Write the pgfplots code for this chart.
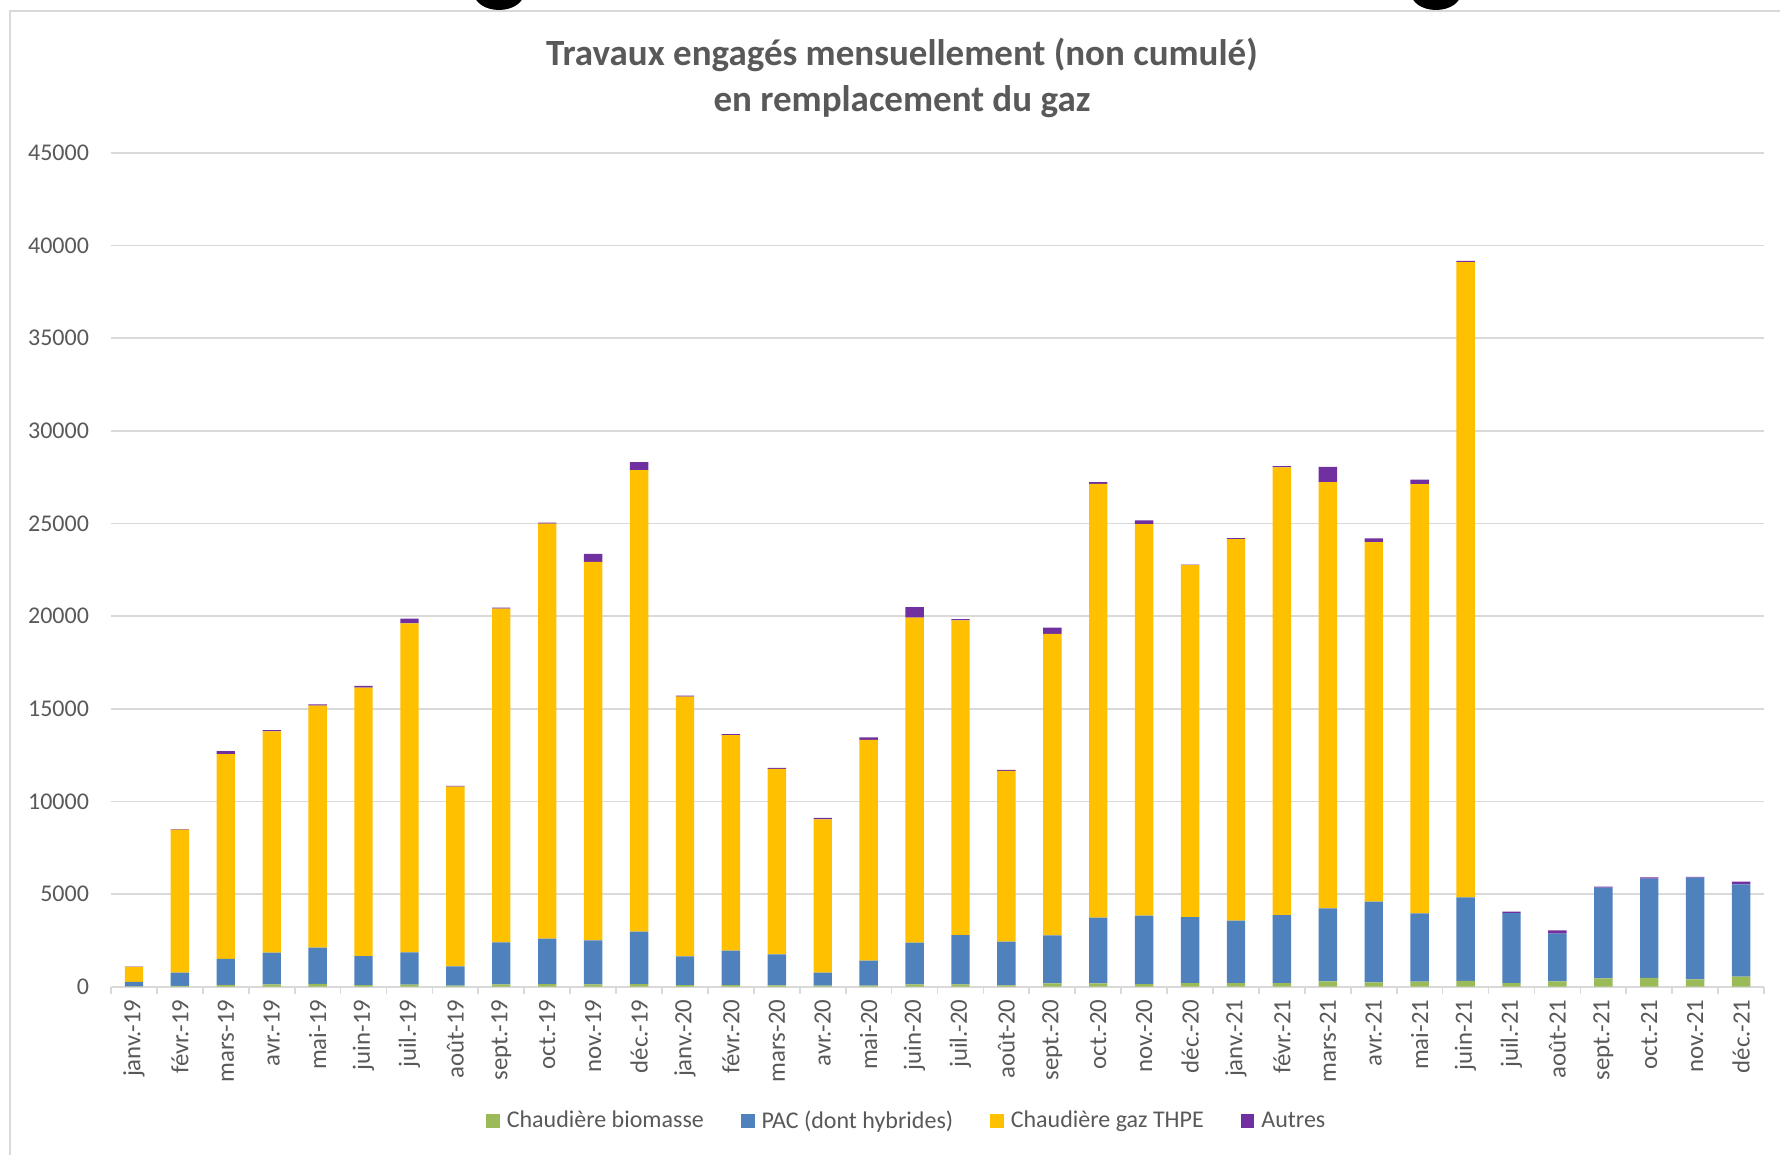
\documentclass[border=0pt]{standalone}
\usepackage{pgfplots}
\pgfplotsset{compat=1.18}
\usepackage{pgfplotstable}
\usepackage{fontspec}
\setmainfont{Carlito}
\definecolor{cbio}{HTML}{9BBB59}
\definecolor{cpac}{HTML}{4F81BD}
\definecolor{cgaz}{HTML}{FFC000}
\definecolor{caut}{HTML}{7030A0}
\definecolor{txt}{HTML}{595959}
\definecolor{grd}{HTML}{D9D9D9}

\pgfplotstableread{
x bio pac gaz aut
0 20 240 810 20
1 40 718 7712 30
2 100 1400 11045 165
3 120 1720 11932 73
4 150 1960 13052 73
5 80 1576 14481 90
6 110 1743 17750 252
7 60 1040 9694 36
8 120 2275 18002 53
9 140 2450 22392 54
10 130 2370 20424 433
11 140 2827 24903 433
12 80 1560 14010 50
13 90 1852 11632 56
14 70 1678 10003 54
15 60 695 8270 90
16 60 1342 11919 126
17 120 2253 17537 577
18 130 2659 16976 73
19 70 2357 9215 55
20 180 2592 16271 325
21 180 3542 23408 90
22 140 3690 21134 198
23 190 3570 18984 36
24 190 3370 20592 54
25 190 3677 24147 72
26 290 3939 22991 830
27 230 4355 19404 199
28 270 3689 23153 253
29 320 4502 34278 60
30 190 3785 0 70
31 290 2570 0 182
32 450 4890 0 60
33 470 5355 0 75
34 390 5490 0 40
35 540 4985 0 140
}\data

\begin{document}
\begin{tikzpicture}
\useasboundingbox (0pt,0pt) rectangle (890pt,577.5pt);
\begin{scope}
\clip (0pt,0pt) rectangle (890pt,577.5pt);
\fill[black] (249.5pt,581pt) ellipse (12.5pt and 8.5pt);
\fill[black] (718pt,581pt) ellipse (12.5pt and 8.5pt);
\end{scope}
\draw[grd, line width=0.75pt] (5pt,0pt) -- (5pt,572pt) -- (890pt,572pt);
\node[font=\bfseries\fontsize{18.5}{22}\selectfont, text=txt] at (451pt,550.25pt) {Travaux engagés mensuellement (non cumulé)};
\node[font=\bfseries\fontsize{18.5}{22}\selectfont, text=txt] at (451pt,526.5pt) {en remplacement du gaz};
\begin{axis}[
  at={(55.5pt,84.15pt)}, anchor=south west,
  width=826.5pt, height=417pt, scale only axis,
  xmin=-0.5, xmax=35.5, ymin=0, ymax=45000,
  ybar stacked, bar width=9.2pt,
  axis line style={draw=none},
  ytick={0,5000,...,45000},
  ymajorgrids, grid style={grd, line width=0.85pt},
  xtick={0,...,35},
  xticklabels={janv.-19,févr.-19,mars-19,avr.-19,mai-19,juin-19,juil.-19,août-19,sept.-19,oct.-19,nov.-19,déc.-19,
               janv.-20,févr.-20,mars-20,avr.-20,mai-20,juin-20,juil.-20,août-20,sept.-20,oct.-20,nov.-20,déc.-20,
               janv.-21,févr.-21,mars-21,avr.-21,mai-21,juin-21,juil.-21,août-21,sept.-21,oct.-21,nov.-21,déc.-21},
  minor xtick={-0.5,0.5,...,35.5},
  tick align=outside, xtick pos=bottom, ytick pos=left,
  major tick length=0pt, minor tick length=3.5pt,
  minor x tick style={grd, line width=0.85pt},
  major tick style={draw=none},
  ticklabel style={font=\fontsize{12}{14}\selectfont, text=txt},
  xticklabel style={rotate=90, anchor=east, font=\fontsize{12.4}{14}\selectfont},
  xticklabel shift=3pt,
  yticklabel shift=7.5pt,
  scaled y ticks=false,
  /pgf/number format/1000 sep={},
  /pgf/number format/assume math mode=true,
  legend cell align=left,
  legend style={at={(0.482,-0.161)}, anchor=center, draw=none, fill=none,
    legend columns=4, font=\fontsize{12}{14}\selectfont, text=txt,
    /tikz/every odd column/.append style={column sep=1.5pt},
    /tikz/every even column/.append style={column sep=16.5pt}},
]
\addplot[fill=cbio, draw=none, legend image code/.code={\fill[cbio] (0pt,-3.4pt) rectangle (6.8pt,3.4pt);}] table[x=x,y=bio]{\data};
\addplot[fill=cpac, draw=none, legend image code/.code={\fill[cpac] (0pt,-3.4pt) rectangle (6.8pt,3.4pt);}] table[x=x,y=pac]{\data};
\addplot[fill=cgaz, draw=none, legend image code/.code={\fill[cgaz] (0pt,-3.4pt) rectangle (6.8pt,3.4pt);}] table[x=x,y=gaz]{\data};
\addplot[fill=caut, draw=none, legend image code/.code={\fill[caut] (0pt,-3.4pt) rectangle (6.8pt,3.4pt);}] table[x=x,y=aut]{\data};
\legend{Chaudière biomasse,PAC (dont hybrides),Chaudière gaz THPE,Autres}
\end{axis}
\end{tikzpicture}
\end{document}
